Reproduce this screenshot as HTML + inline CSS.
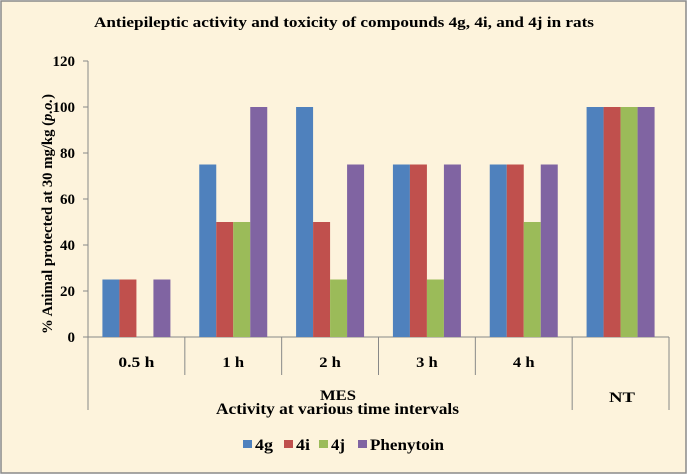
<!DOCTYPE html>
<html><head><meta charset="utf-8"><style>
body{margin:0;background:#fff}
svg{display:block}
text{font-family:"Liberation Serif",serif;font-weight:bold;fill:#000}
</style></head><body>
<svg width="689" height="476">
<rect x="1" y="1" width="685" height="472" fill="#fdf3dc" stroke="#8a8a8a" stroke-width="1.5"/>
<text x="94" y="27" font-size="15" textLength="500" lengthAdjust="spacingAndGlyphs">Antiepileptic activity and toxicity of compounds 4g, 4i, and 4j in rats</text>
<g id="plot"></g>
<text transform="translate(52,214) rotate(-90)" text-anchor="middle" font-size="15" textLength="240" lengthAdjust="spacingAndGlyphs">% Animal protected at 30 mg/kg (<tspan font-style="italic">p.o.</tspan>)</text>
<text x="338" y="400" text-anchor="middle" font-size="15" font-weight="normal" textLength="36" lengthAdjust="spacingAndGlyphs">MES</text>
<text x="622" y="402" text-anchor="middle" font-size="15" textLength="26" lengthAdjust="spacingAndGlyphs">NT</text>
<text x="216" y="414" font-size="16" textLength="243" lengthAdjust="spacingAndGlyphs">Activity at various time intervals</text>
<g id="legend"></g>
</svg>
<script>
const categories=["0.5 h","1 h","2 h","3 h","4 h",""];
const seriesNames=["4g","4i","4j","Phenytoin"];
const s4g=[25,75,100,75,75,100];
const s4i=[25,50,50,75,75,100];
const s4j=[0,50,25,25,50,100];
const sPhen=[25,100,75,75,75,100];
const yTicks=[0,20,40,60,80,100,120];
const colors=["#4f81bd","#c0504d","#9bbb59","#8064a2"];
const series=[s4g,s4i,s4j,sPhen];
const NS="http://www.w3.org/2000/svg";
const x0=88,x1=669,yTop=61,yBot=337,yMax=120;
const gw=(x1-x0)/categories.length,bw=17;
const y=v=>yBot-(v/yMax)*(yBot-yTop);
const g=document.getElementById('plot');
function mk(t,a,p){const e=document.createElementNS(NS,t);for(const k in a)e.setAttribute(k,a[k]);(p||g).appendChild(e);return e;}
let ax=mk('line',{x1:x0,y1:yTop,x2:x0,y2:yBot,stroke:'#888'});


yTicks.forEach(t=>{
 const l=mk('line',{x1:x0-5,y1:y(t),x2:x0,y2:y(t),stroke:'#888'});
 
 
 const s=String(t);
 const tx=mk('text',{x:x0-13,y:y(t)+5,'text-anchor':'end','font-size':15,textLength:s.length*7.5,lengthAdjust:'spacingAndGlyphs'});
 tx.textContent=s;
 
 
});
let xa=mk('line',{x1:x0,y1:yBot,x2:x1,y2:yBot,stroke:'#888'});


for(let i=0;i<=categories.length;i++){
 const xx=x0+i*gw;
 const outer=(i===0||i===5||i===6);
 const l=mk('line',{x1:xx,y1:yBot,x2:xx,y2:outer?410:375,stroke:'#888'});
 
 
}
categories.forEach((c,i)=>{
 const cx=x0+(i+0.5)*gw;
 if(c){const t=mk('text',{x:cx,y:367,'text-anchor':'middle','font-size':15,textLength:c.length*7.2,lengthAdjust:'spacingAndGlyphs'});t.textContent=c;
 
 }
 series.forEach((s,j)=>{
  const v=s[i];
  const bx=x0+i*gw+(gw-4*bw)/2+j*bw;
  const r=mk('rect',{x:bx,y:y(v),width:bw,height:yBot-y(v),fill:colors[j]});
  
  
 });
});
const lg=document.getElementById('legend');
const lx=[243,284,319,358];
const lw=[18,14,14,74];
seriesNames.forEach((n,j)=>{
 const r=mk('rect',{x:lx[j],y:440,width:9,height:8,fill:colors[j]},lg);
 
 
 const t=mk('text',{x:lx[j]+12,y:450,'font-size':16,textLength:lw[j],lengthAdjust:'spacingAndGlyphs'},lg);
 t.textContent=n;
 
 
});
</script>
</body></html>
